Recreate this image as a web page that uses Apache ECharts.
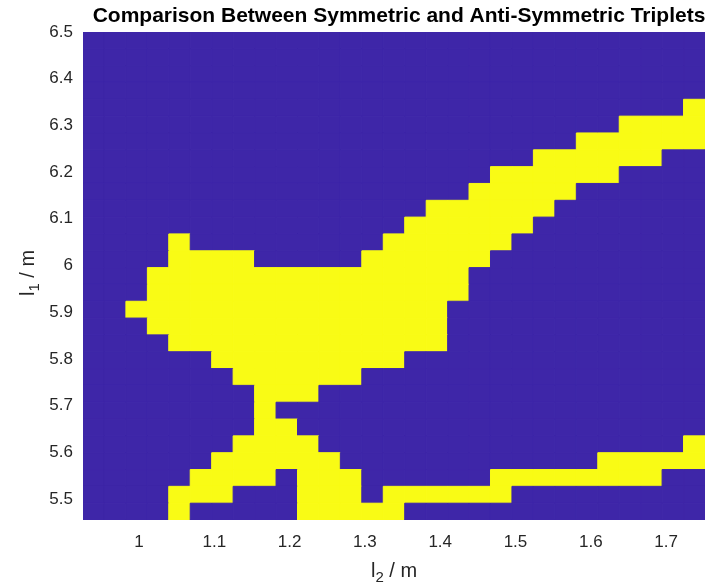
<!DOCTYPE html>
<html><head><meta charset="utf-8">
<script src="https://cdn.jsdelivr.net/npm/echarts@6/dist/echarts.min.js"></script>
<style>html,body{margin:0;padding:0;background:#fff}#c{width:705px;height:588px}</style>
</head><body><div id="c"></div>
<script>
// cell edges of the l2 grid (x) and l1 grid (y, bottom to top)
const l2Edges = [0.9256, 0.9541, 0.9826, 1.0111, 1.0395, 1.0680, 1.0965, 1.1250, 1.1535, 1.1820,
  1.2105, 1.2389, 1.2674, 1.2959, 1.3244, 1.3529, 1.3814, 1.4099, 1.4383, 1.4668,
  1.4953, 1.5238, 1.5523, 1.5808, 1.6093, 1.6378, 1.6662, 1.6947, 1.7232, 1.7517];
const l1Edges = [5.4550, 5.4910, 5.5271, 5.5631, 5.5991, 5.6352, 5.6712, 5.7072, 5.7433, 5.7793,
  5.8153, 5.8514, 5.8874, 5.9234, 5.9595, 5.9955, 6.0315, 6.0676, 6.1036, 6.1396,
  6.1757, 6.2117, 6.2477, 6.2838, 6.3198, 6.3559, 6.3919, 6.4279, 6.4640, 6.5000];
// comparison result per cell, rows listed top (l1 high) to bottom, columns left to right
const cellRows = [
  "0000000000 0000000000 000000000",
  "0000000000 0000000000 000000000",
  "0000000000 0000000000 000000000",
  "0000000000 0000000000 000000000",
  "0000000000 0000000000 000000001",
  "0000000000 0000000000 000001111",
  "0000000000 0000000000 000111111",
  "0000000000 0000000000 011111100",
  "0000000000 0000000001 111110000",
  "0000000000 0000000011 111000000",
  "0000000000 0000001111 110000000",
  "0000000000 0000011111 100000000",
  "0000100000 0000111111 000000000",
  "0000111100 0001111110 000000000",
  "0001111111 1111111100 000000000",
  "0001111111 1111111100 000000000",
  "0011111111 1111111000 000000000",
  "0001111111 1111111000 000000000",
  "0000111111 1111111000 000000000",
  "0000001111 1111100000 000000000",
  "0000000111 1110000000 000000000",
  "0000000011 1000000000 000000000",
  "0000000010 0000000000 000000000",
  "0000000011 0000000000 000000000",
  "0000000111 1000000000 000000001",
  "0000001111 1100000000 000011111",
  "0000011110 1110000001 111111100",
  "0000111000 1110111111 000000000",
  "0000100000 1111100000 000000000"
];
const cellColors = ['#3E26A8', '#F9FB15'];
const titleText = 'Comparison Between Symmetric and Anti-Symmetric Triplets';

const nRows = cellRows.length;
const data = [];
cellRows.forEach((s, r) => {
  const row = s.replace(/\s/g, '');
  const j = nRows - 1 - r;
  for (let c = 0; c < row.length; c++) {
    data.push([l2Edges[c], l2Edges[c + 1], l1Edges[j], l1Edges[j + 1], +row[c]]);
  }
});

const FONT = 'Liberation Sans';
const chart = echarts.init(document.getElementById('c'), null, {renderer: 'canvas'});
chart.setOption({
  animation: false,
  backgroundColor: '#fff',
  title: {
    text: titleText, left: 394, top: 1, textAlign: 'center',
    textStyle: {fontFamily: FONT, fontWeight: 'bold', fontSize: 21, color: '#000'}
  },
  grid: {left: 83, right: 0, top: 32, bottom: 68, outerBoundsMode: 'none'},
  xAxis: {
    type: 'value', min: l2Edges[0], max: l2Edges[l2Edges.length - 1],
    minInterval: 0.1, maxInterval: 0.1,
    axisLine: {show: false}, axisTick: {show: false}, splitLine: {show: false},
    axisLabel: {showMinLabel: false, showMaxLabel: false, margin: 14,
      fontFamily: FONT, fontSize: 17, color: '#262626'}
  },
  yAxis: {
    type: 'value', min: l1Edges[0], max: l1Edges[l1Edges.length - 1],
    minInterval: 0.1, maxInterval: 0.1,
    axisLine: {show: false}, axisTick: {show: false}, splitLine: {show: false},
    axisLabel: {showMinLabel: false, showMaxLabel: true, margin: 10,
      fontFamily: FONT, fontSize: 17, color: '#262626'}
  },
  graphic: [
    {type: 'text', x: 394, y: 571,
      style: {text: '{a|l}{b|2}{a| / m}', align: 'center', verticalAlign: 'middle',
        rich: {a: {fontFamily: FONT, fontSize: 20, fill: '#262626'},
               b: {fontFamily: FONT, fontSize: 15, fill: '#262626', padding: [13, 0, 0, 0]}}}},
    {type: 'text', x: 28, y: 273, rotation: Math.PI / 2,
      style: {text: '{a|l}{b|1}{a| / m}', align: 'center', verticalAlign: 'middle',
        rich: {a: {fontFamily: FONT, fontSize: 20, fill: '#262626'},
               b: {fontFamily: FONT, fontSize: 15, fill: '#262626', padding: [13, 0, 0, 0]}}}}
  ],
  series: [{
    type: 'custom',
    coordinateSystem: 'cartesian2d',
    encode: {x: [0, 1], y: [2, 3]},
    clip: true,
    renderItem: function (params, api) {
      const a = api.coord([api.value(0), api.value(3)]);
      const b = api.coord([api.value(1), api.value(2)]);
      const col = cellColors[api.value(4)];
      return {type: 'rect',
        shape: {x: a[0], y: a[1], width: b[0] - a[0], height: b[1] - a[1]},
        style: {fill: col, stroke: col, lineWidth: 1}};
    },
    data: data
  }]
});
</script></body></html>
